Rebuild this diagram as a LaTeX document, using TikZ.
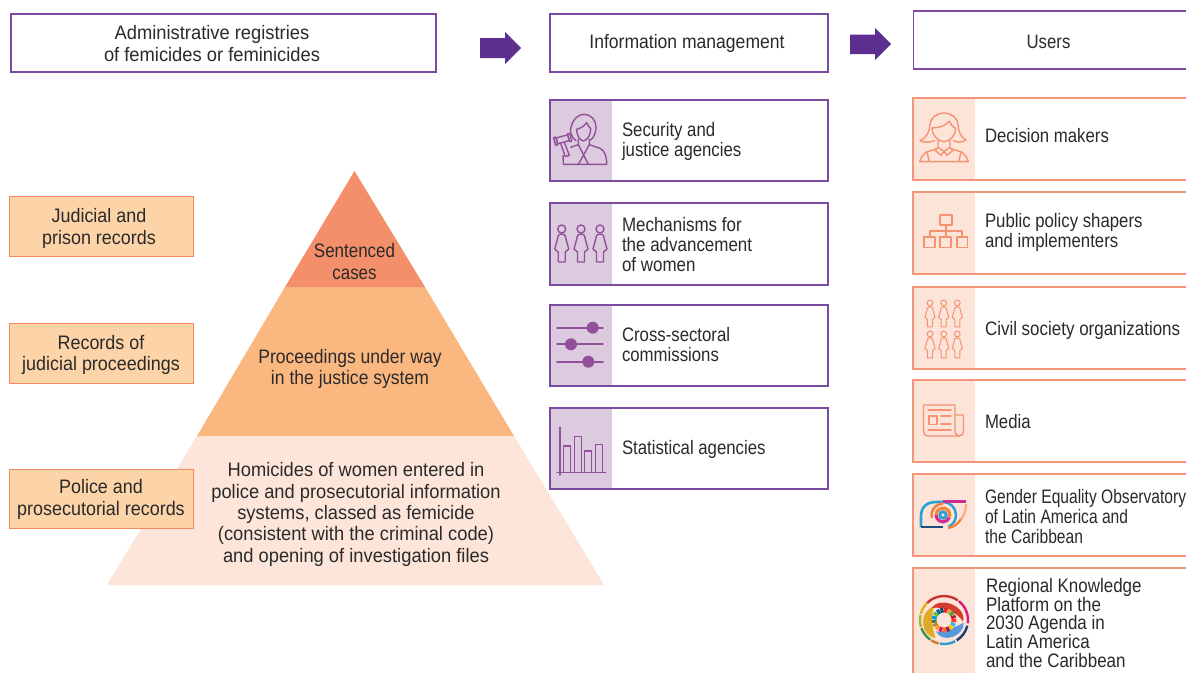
\documentclass[tikz,border=0pt]{standalone}
\usepackage{fontspec}
\setmainfont[FakeStretch=0.86]{Liberation Sans}
\newfontfamily\fontwa[FakeStretch=0.92]{Liberation Sans}
\newfontfamily\fontwh[FakeStretch=0.94]{Liberation Sans}
\newfontfamily\fontwb[FakeStretch=0.90]{Liberation Sans}
\newfontfamily\fontwc[FakeStretch=0.87]{Liberation Sans}
\newfontfamily\fontwd[FakeStretch=0.80]{Liberation Sans}
\newcommand{\szz}[1]{\fontsize{19.5}{#1}\selectfont}
\usetikzlibrary{calc}
\definecolor{pborder}{HTML}{7A4BA0}
\definecolor{pband}{HTML}{DCCBDF}
\definecolor{picon}{HTML}{93509A}
\definecolor{parrow}{HTML}{5B2E90}
\definecolor{oborder}{HTML}{F4967A}
\definecolor{oband}{HTML}{FDE4D8}
\definecolor{oicon}{HTML}{F59273}
\definecolor{lfill}{HTML}{FDD3A8}
\definecolor{lborder}{HTML}{F58A62}
\definecolor{tierA}{HTML}{F48F6C}
\definecolor{tierB}{HTML}{FBB780}
\definecolor{tierC}{HTML}{FDE5D9}
\definecolor{txt}{HTML}{2A2A2A}
\definecolor{eyeblue}{HTML}{26A0D6}
\definecolor{eyenavy}{HTML}{1C4C80}
\definecolor{eyemag}{HTML}{D02C94}
\definecolor{eyeor}{HTML}{F5823A}
\tikzset{
  x=1pt,y=-1pt,
  every node/.style={text=txt,inner sep=0pt,outer sep=0pt,font=\szz{20}},
  pbox/.style={draw=pborder,line width=1.1pt,fill=white},
  lbox/.style={draw=lborder,line width=1pt,fill=lfill},
  lab/.style={anchor=west,align=left},
  ctr/.style={align=center},
  picn/.style={draw=picon,line width=1.4pt,line join=round,line cap=round},
  oicn/.style={draw=oicon,line width=1.4pt,line join=round,line cap=round},
  blockarrow/.style={fill=parrow,draw=none},
}
\newcommand{\figwoman}[5]{% style, x, y, scale, lw
  \begin{scope}[shift={(#2,#3)},scale=#4,#1,line width=#5]
    \draw (0,0) circle[radius=4];
    \draw (0,5) .. controls (-4,5) and (-4,8) .. (-4.5,11) -- (-7,20) -- (-3.5,23) -- (-3.5,33) -- (3.5,33) -- (3.5,23) -- (7,20) -- (4.5,11) .. controls (4,8) and (4,5) .. (0,5) -- cycle;
  \end{scope}}
\begin{document}
\begin{tikzpicture}
\useasboundingbox (0,0) rectangle (1186,672);
\clip (0,0) rectangle (1186,672);
\fill[white] (0,0) rectangle (1186,672);

% header boxes
\draw[pbox] (11,14) rectangle (436,72);
\draw[pbox] (550,14) rectangle (828,72);
\draw[pbox] (913.5,11) rectangle (1195,69);
\node[ctr,font=\fontwh\szz{22}] (hA) at (212,43.5) {Administrative registries\\of femicides or feminicides};
\node[ctr,font=\fontwb\szz{20}] (hB) at (687,43) {Information management};
\node[ctr] (hC) at (1048.5,41.5) {Users};

% block arrows
\fill[blockarrow] (480,38) -- (505,38) -- (505,32) -- (521,48) -- (505,64) -- (505,58) -- (480,58) -- cycle;
\fill[blockarrow] (850,34.5) -- (875,34.5) -- (875,28) -- (891,44) -- (875,60) -- (875,54) -- (850,54) -- cycle;

% pyramid
\fill[tierC] (197,436) -- (514,436) -- (604,585) -- (107,585) -- cycle;
\fill[tierB] (285,287) -- (425,287) -- (514,436) -- (197,436) -- cycle;
\fill[tierA] (354.5,171) -- (425,287) -- (285,287) -- cycle;
\node[ctr,font=\fontwc\szz{22}] (t1) at (354.5,262) {Sentenced\\cases};
\node[ctr,font=\fontwb\szz{21}] (t2) at (350,368.5) {Proceedings under way\\in the justice system};
\node[ctr,font=\fontwh\szz{21.3}] (t3) at (356,514.5) {Homicides of women entered in\\police and prosecutorial information\\systems, classed as femicide\\(consistent with the criminal code)\\and opening of investigation files};

% left boxes
\draw[lbox] (9,196) rectangle (193,256);
\draw[lbox] (9,323) rectangle (193,383);
\draw[lbox] (9,469) rectangle (193,528);
\node[ctr,font=\fontwa\szz{21.5}] (l1) at (99,228.5) {Judicial and\\prison records};
\node[ctr,font=\fontwa\szz{21.5}] (l2) at (101,355) {Records of\\judicial proceedings};
\node[ctr,font=\fontwa\szz{21.5}] (l3) at (101,499.5) {Police and\\prosecutorial records};

% purple boxes
\foreach \ya/\yb in {100/181,203/285,305/386,408/489}{
  \fill[pband] (550,\ya) rectangle (612,\yb);
  \draw[draw=pborder,line width=1.1pt] (550,\ya) rectangle (828,\yb);
}
\node[lab] (p1) at (622,141.5) {Security and\\justice agencies};
\node[lab,font=\fontwc\szz{20.2}] (p2) at (622,244.4) {Mechanisms for\\the advancement\\of women};
\node[lab] (p3) at (622,344.5) {Cross-sectoral\\commissions};
\node[lab] (p4) at (622,449) {Statistical agencies};

% judge icon (crop units, 3 = 1 px)
\begin{scope}[shift={(550,110)},scale=0.3333]
  \draw[picn] (78,92) .. controls (60,78) and (58,60) .. (66,42) .. controls (72,24) and (88,13) .. (102,13)
     .. controls (122,13) and (138,30) .. (138,50) .. controls (138,68) and (132,82) .. (122,90);
  \draw[picn] (80,58) .. controls (92,55) and (103,48) .. (110,38) .. controls (113,46) and (118,52) .. (122,56)
     .. controls (122,75) and (113,90) .. (100,93) .. controls (88,90) and (80,75) .. (80,58) -- cycle;
  \draw[picn] (85,88) -- (85,104) -- (62,112) (118,88) -- (118,104) -- (150,115) .. controls (165,122) and (170,140) .. (170,163) -- (40,163) -- (39,136);
  \draw[picn] (85,104) -- (115,163) (118,104) -- (85,163);
  \begin{scope}[shift={(38,88)},rotate=15]
    \draw[picn] (-18,-9) rectangle (18,9);
    \draw[picn] (-25,-12) rectangle (-18,12);
    \draw[picn] (18,-12) rectangle (25,12);
  \end{scope}
  \draw[picn] (32,100) -- (46,140) -- (58,136) -- (43,97);
\end{scope}

% women icon
\figwoman{picn}{561.7}{229}{1}{1.4pt}
\figwoman{picn}{581}{229}{1}{1.4pt}
\figwoman{picn}{600}{229}{1}{1.4pt}

% sliders
\draw[picn,line width=1.8pt] (557,327.7) -- (603,327.7) (557,344.3) -- (603,344.3) (557,361.7) -- (603,361.7);
\fill[picon] (592.7,327.7) circle[radius=6] (571,344.3) circle[radius=6] (588.3,361.7) circle[radius=6];

% chart
\draw[picn] (560,427.3) -- (560,475) (557,472.3) -- (605.7,472.3);
\draw[picn] (563.3,472.3) -- (563.3,446) -- (570.7,446) -- (570.7,472.3);
\draw[picn] (574.3,472.3) -- (574.3,436.7) -- (581.3,436.7) -- (581.3,472.3);
\draw[picn] (584.7,472.3) -- (584.7,451) -- (591.7,451) -- (591.7,472.3);
\draw[picn] (595.3,472.3) -- (595.3,444.7) -- (602.3,444.7) -- (602.3,472.3);

% orange boxes
\foreach \ya/\yb in {98/180,192/274,287/369,380/462,474/556,568/680}{
  \fill[oband] (913,\ya) rectangle (975,\yb);
  \draw[draw=oborder,line width=1.1pt] (1195,\ya) -- (913,\ya) -- (913,\yb) -- (1195,\yb);
}
\node[lab] (o1) at (985,136) {Decision makers};
\node[lab] (o2) at (985,232) {Public policy shapers\\and implementers};
\node[lab,font=\fontwc\szz{20}] (o3) at (985,330) {Civil society organizations};
\node[lab] (o4) at (985,421.5) {Media};
\node[lab,font=\fontwd\szz{20}] (o5) at (985,516.5) {Gender Equality Observatory\\of Latin America and\\the Caribbean};
\node[lab,font=\fontwc\szz{18.8}] (o6) at (986,623) {Regional Knowledge\\Platform on the\\2030 Agenda in\\Latin America\\and the Caribbean};

% decision maker icon (crop units)
\begin{scope}[shift={(914,108)},scale=0.3333]
  \draw[oicn] (62,98) .. controls (45,104) and (28,104) .. (18,98) .. controls (38,90) and (46,72) .. (48,50)
     .. controls (50,28) and (68,15) .. (90,15) .. controls (112,15) and (130,28) .. (132,50)
     .. controls (134,72) and (140,88) .. (156,96) .. controls (145,104) and (132,104) .. (118,98);
  \draw[oicn] (54,60) .. controls (72,60) and (94,54) .. (106,40) .. controls (110,50) and (118,58) .. (125,62)
     .. controls (125,82) and (108,100) .. (90,101) .. controls (72,100) and (54,82) .. (54,60) -- cycle;
  \draw[oicn] (72,96) -- (72,118) -- (90,130) -- (108,118) -- (108,96);
  \draw[oicn] (72,118) -- (64,128) -- (81,142) -- (90,130) -- (99,142) -- (116,128) -- (108,118);
  \draw[oicn] (68,122) -- (38,132) .. controls (28,138) and (20,150) .. (17,161) -- (163,161) .. controls (160,150) and (152,138) .. (142,132) -- (112,122);
  \draw[oicn] (40,135) -- (45,160) (140,135) -- (135,160);
\end{scope}

% network icon
\draw[oicn,line width=1.6pt] (940,215) rectangle (952,225);
\draw[oicn,line width=1.6pt] (924,236.7) rectangle (935,247.3) (940,236.7) rectangle (951,247.3) (956.7,236.7) rectangle (967.3,247.3);
\draw[oicn,line width=1.6pt] (946,225) -- (946,236.7) (929.7,236.7) -- (929.7,230.7) -- (962,230.7) -- (962,236.7);

% civil society icon
\foreach \xx in {930,943.7,957.3}{
  \foreach \yy in {303,334}{
    \figwoman{oicn}{\xx}{\yy}{0.72}{1pt}
  }
}

% media icon
\draw[oicn] (955,411) -- (955,405) -- (923.5,405) -- (923.5,430) .. controls (923.5,434) and (925,436) .. (929,436) -- (959,436) .. controls (962,436) and (963.5,434) .. (963.5,431) -- (963.5,415) -- (955,415);
\draw[oicn] (955,411) -- (955,431) .. controls (955,434) and (957,436) .. (959,436);
\draw[oicn] (928,410) -- (951,410);
\draw[oicn] (929,416) rectangle (937,424.5);
\draw[oicn] (941,416) -- (951,416) (941,424) -- (951,424);
\draw[oicn] (928,430) -- (951,430);

% observatory icon (y up inside the scope)
\begin{scope}[shift={(943,515)},yscale=-1,line cap=butt]
  \draw[eyeblue,line width=2.6pt] (-22,-12) -- (-22,-1) .. controls (-22,8) and (-16,13) .. (-7,13) -- (0,13);
  \draw[eyenavy,line width=2.4pt] (-22.5,-12) -- (0,-12);
  \draw[eyeblue,line width=2.4pt] (0,13) arc[start angle=90,end angle=-65,radius=13];
  \draw[eyemag,line width=2.4pt] (0,13.5) -- (23,13.5);
  \draw[eyeor!55!oband,line width=2.2pt] (23,11) .. controls (23,3) and (20,-2) .. (18,-4);
  \draw[eyeor,line width=2.4pt] (18,-4) .. controls (15,-9) and (11,-12) .. (5,-13);
  \draw[eyeor,line width=2.6pt] (-11,-3) arc[start angle=195,end angle=90,radius=11.4];
  \draw[eyemag,line width=3.2pt] (-6.8,0) arc[start angle=180,end angle=340,radius=6.8];
  \draw[eyeor,line width=3.2pt] (6.4,-2.3) arc[start angle=-20,end angle=180,radius=6.8];
  \draw[eyeblue,line width=2.8pt] (0,0) circle[radius=3.2];
\end{scope}

% regional platform icon (y up inside the scope)
\begin{scope}[shift={(944,620)},yscale=-1,line cap=butt]
  \foreach \a/\b/\c in {135/55/C8342C,52/-8/D81E7B,-14/-58/1B3F6E,-62/-100/2E9AD0,-103/-122/D07A2A,-125/-160/3D8F4A,-163/-192/A9B435,-195/-225/E0B020}{
    \definecolor{seg}{HTML}{\c}
    \draw[seg,line width=2.4pt] (\a:24) arc[start angle=\a,end angle=\b,radius=24];
  }
  \fill[color={rgb,255:red,222;green,170;blue,40}] (125:17) .. controls (165:28) and (215:28) .. (245:20) .. controls (215:14) and (175:14) .. (125:17) -- cycle;
  \fill[color={rgb,255:red,214;green,60;blue,45}] (135:17) .. controls (100:25) and (30:27) .. (-5:19) .. controls (25:16) and (90:14) .. (135:17) -- cycle;
  \fill[color={rgb,255:red,85;green,155;blue,220}] (-125:14) .. controls (-95:24) and (-40:26) .. (-8:20) .. controls (-25:14) and (-90:13) .. (-125:14) -- cycle;
  \foreach \i/\c in {0/E5243B,1/DDA63A,2/4C9F38,3/C5192D,4/FF3A21,5/26BDE2,6/FCC30B,7/A21942,8/FD6925,9/DD1367,10/FD9D24,11/BF8B2E,12/3F7E44,13/0A97D9,14/56C02B,15/00689D,16/19486A}{
    \definecolor{seg}{HTML}{\c}
    \pgfmathsetmacro{\st}{90-\i*21.18}
    \pgfmathsetmacro{\en}{\st-18}
    \draw[seg,line width=4.8pt] (\st:10) arc[start angle=\st,end angle=\en,radius=10];
  }
\end{scope}
\end{tikzpicture}
\end{document}
